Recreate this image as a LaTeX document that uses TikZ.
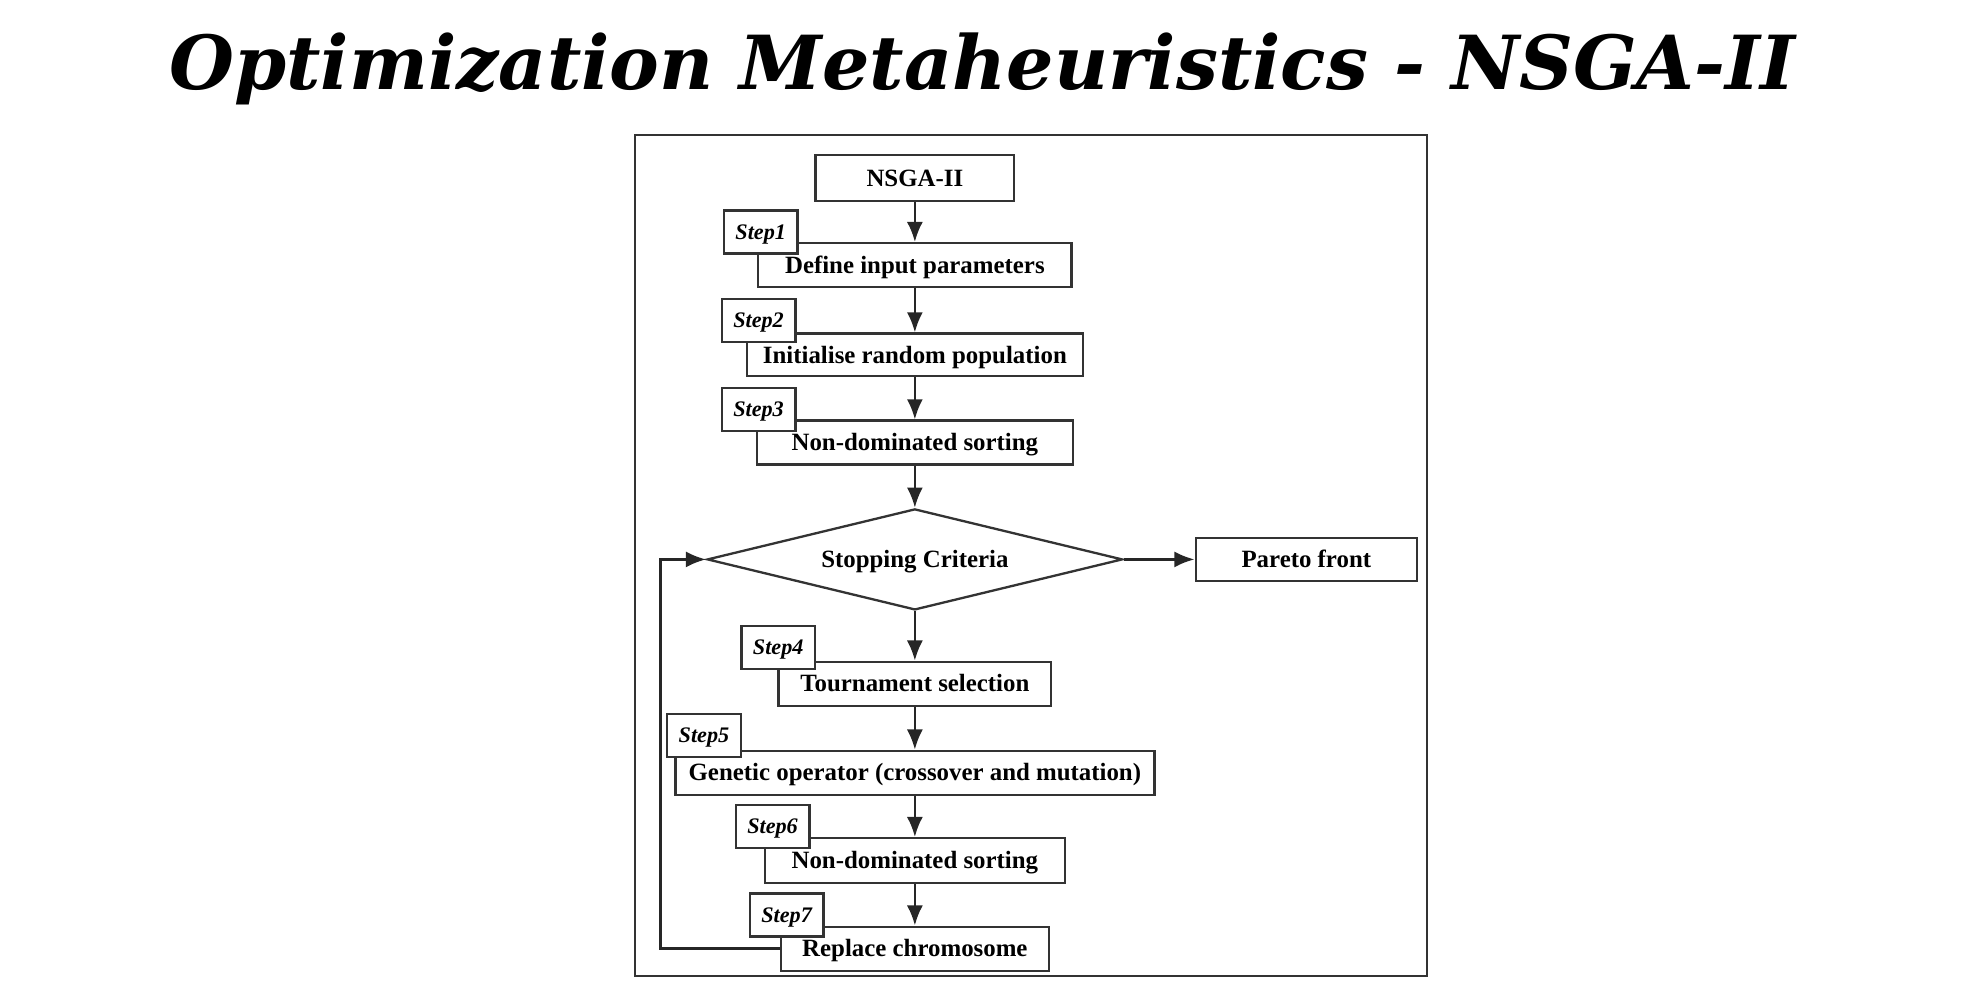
\documentclass[tikz,border=0pt]{standalone}
\usepackage{fontspec}
\setmainfont{Liberation Serif}
\newfontfamily\titlefont{DejaVu Serif}
\usetikzlibrary{shapes.geometric,arrows.meta}

\begin{document}
\begin{tikzpicture}[
    x=0.025cm, y=-0.025cm,
    font=\fontsize{14}{16}\selectfont\bfseries,
    box/.style={draw=black!80, line width=1.3pt, fill=white, rectangle, inner sep=0pt,
        text height=9.2pt, text depth=0pt, minimum height=0.87cm},
    steptag/.style={draw=black!80, line width=1.3pt, fill=white, rectangle, inner sep=0pt,
        text height=8.3pt, text depth=0pt, minimum width=1.46cm, minimum height=0.85cm,
        font=\fontsize{12.5}{14}\selectfont\bfseries\itshape},
    decision/.style={draw=black!80, line width=1.3pt, diamond, inner sep=0pt, aspect=4.1,
        text height=9.2pt, text depth=0pt, minimum width=8.22cm, minimum height=2cm},
    arrow/.style={-{Latex[length=4mm,width=3.2mm]}, line width=1.5pt, black!85}
]
\useasboundingbox (0,0) rectangle (1568,792);

% Title
\node[anchor=base, font=\titlefont\fontsize{42}{46}\selectfont\bfseries\itshape] (title) at (778,71) {Optimization Metaheuristics - NSGA-II};

% Frame
\draw[black!80, line width=1.3pt] (503,107) rectangle (1130,773);

% Boxes
\node[box, minimum width=3.93cm, minimum height=0.9cm] (start) at (724.5,141) {NSGA-II};
\node[box, minimum width=6.2cm]  (define) at (724.5,210) {Define input parameters};
\node[box, minimum width=6.65cm, minimum height=0.84cm] (init) at (724.5,281) {Initialise random population};
\node[box, minimum width=6.26cm] (sort1)  at (724.5,350.5) {Non-dominated sorting};
\node[decision] (stop) at (724.5,443) {Stopping Criteria};
\node[box, minimum width=4.38cm, minimum height=0.85cm] (pareto) at (1034.5,443) {Pareto front};
\node[box, minimum width=5.4cm]  (tour)    at (724.5,541.5) {Tournament selection};
\node[box, minimum width=9.48cm] (genetic) at (724.5,612) {Genetic operator (crossover and mutation)};
\node[box, minimum width=5.93cm, minimum height=0.89cm] (sort2) at (724.5,681.6) {Non-dominated sorting};
\node[box, minimum width=5.3cm]  (replace) at (724.5,751.3) {Replace chromosome};

% Step tags
\node[steptag] (s1) at (602.4,183.7) {Step1};
\node[steptag] (s2) at (600.7,253.7) {Step2};
\node[steptag] (s3) at (600.7,324.2) {Step3};
\node[steptag] (s4) at (616.3,512.8) {Step4};
\node[steptag] (s5) at (557.5,582.3) {Step5};
\node[steptag] (s6) at (611.8,654.5) {Step6};
\node[steptag] (s7) at (622.9,724.5) {Step7};

% Arrows
\draw[arrow] (start) -- (define);
\draw[arrow] (define) -- (init);
\draw[arrow] (init) -- (sort1);
\draw[arrow] (sort1) -- (stop);
\draw[arrow] (stop) -- (pareto);
\draw[arrow] (stop) -- (tour);
\draw[arrow] (tour) -- (genetic);
\draw[arrow] (genetic) -- (sort2);
\draw[arrow] (sort2) -- (replace);

% Loop back
\coordinate (back) at (523,751.3);
\draw[arrow] (replace.west) -- (back) |- (stop.west);

\end{tikzpicture}
\end{document}
